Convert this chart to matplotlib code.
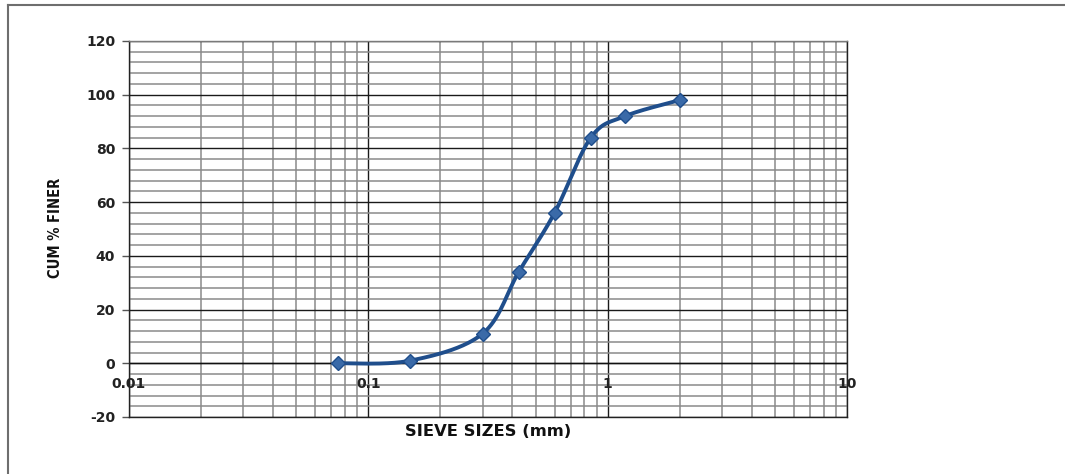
import numpy as np
import matplotlib
matplotlib.use("Agg")
import matplotlib.pyplot as plt
from matplotlib.lines import Line2D
from matplotlib.ticker import LogLocator, MultipleLocator, NullFormatter

plt.rcParams["axes.unicode_minus"] = False

# Data
sieve_mm = [0.075, 0.15, 0.3, 0.425, 0.6, 0.85, 1.18, 2.0]
cum_finer = [0.0, 1.0, 11.0, 34.0, 56.0, 84.0, 92.0, 98.0]
x_tick_vals = [0.01, 0.1, 1, 10]
x_tick_labels = ["0.01", "0.1", "1", "10"]
y_ticks = [-20, 0, 20, 40, 60, 80, 100, 120]

fig = plt.figure(figsize=(10.65, 4.74), dpi=100)
W, H = 1065, 474
ax = fig.add_axes([129 / W, 1 - 417 / H, (847 - 129) / W, (417 - 41) / H])
ax.set_xscale("log")
ax.set_xlim(0.01, 10)
ax.set_ylim(-20, 120)

# grids
ax.xaxis.set_major_locator(LogLocator(base=10, numticks=10))
ax.xaxis.set_minor_locator(LogLocator(base=10, subs=np.arange(2, 10), numticks=20))
ax.xaxis.set_minor_formatter(NullFormatter())
ax.set_yticks(y_ticks)
ax.yaxis.set_minor_locator(MultipleLocator(4))
ax.grid(which="minor", color="#8a8a8a", lw=1.1)
ax.grid(which="major", color="#1a1a1a", lw=1.0)
ax.set_axisbelow(True)

for s in ax.spines.values():
    s.set_color("#222222")
    s.set_linewidth(1.0)
ax.spines["top"].set_color("#7a7a7a")

ax.tick_params(axis="x", which="both", length=0, labelbottom=False)
ax.tick_params(axis="y", which="minor", length=0)
ax.tick_params(axis="y", which="major", length=5, width=1, color="#555555", pad=5,
               labelsize=10)
for lab in ax.get_yticklabels():
    lab.set_fontweight("bold")
    lab.set_color("#222222")

ax.axhline(0, color="#111111", lw=1.0, zorder=1.5)
for xv, xl in zip(x_tick_vals, x_tick_labels):
    ax.annotate(xl, xy=(xv, 0), xytext=(0, -21), textcoords="offset pixels",
                ha="center", va="center", fontsize=10, fontweight="bold",
                color="#222222", annotation_clip=False)

# smooth curve (Catmull-Rom style Bezier in display-like space)
ppd = (847 - 129) / 3.0
ppu = (417 - 41) / 140.0
u = np.log10(sieve_mm) * ppd
v = np.array(cum_finer) * ppu
P = np.column_stack([u, v])
n = len(P)
pts = []
for i in range(n - 1):
    p0 = P[i - 1] if i > 0 else P[i]
    p1 = P[i]
    p2 = P[i + 1]
    p3 = P[i + 2] if i + 2 < n else P[i + 1]
    c1 = p1 + (p2 - p0) / 6.0
    c2 = p2 - (p3 - p1) / 6.0
    t = np.linspace(0, 1, 40)[:, None]
    seg = ((1 - t) ** 3) * p1 + 3 * ((1 - t) ** 2) * t * c1 + 3 * (1 - t) * t ** 2 * c2 + t ** 3 * p2
    pts.append(seg if i == 0 else seg[1:])
curve = np.vstack(pts)
ax.plot(10 ** (curve[:, 0] / ppd), curve[:, 1] / ppu, color="#1f4e8c", lw=2.8,
        solid_capstyle="round", zorder=3)
ax.plot(sieve_mm, cum_finer, linestyle="none", marker="D", markersize=7,
        markerfacecolor="#3a6aa8", markeredgecolor="#1f4e8c", markeredgewidth=1.0,
        zorder=4)

fig.text(488 / W, 1 - 431 / H, "SIEVE SIZES (mm)", ha="center", va="center",
         fontsize=11.8, fontweight="bold", color="#111111")
fig.text(56 / W, 1 - 228 / H, "CUM % FINER", ha="center", va="center", rotation=90,
         fontsize=10.5, fontweight="bold", fontstretch="condensed", color="#111111",
         family=["DejaVu Sans"])

# outer chart border
fig.add_artist(Line2D([8 / W, 1.0], [1 - 5 / H, 1 - 5 / H], color="#6e6e6e", lw=1.5,
                      transform=fig.transFigure))
fig.add_artist(Line2D([8 / W, 8 / W], [1 - 5 / H, 0.0], color="#6e6e6e", lw=1.5,
                      transform=fig.transFigure))

fig.savefig("out.png", dpi=100, facecolor="white")
